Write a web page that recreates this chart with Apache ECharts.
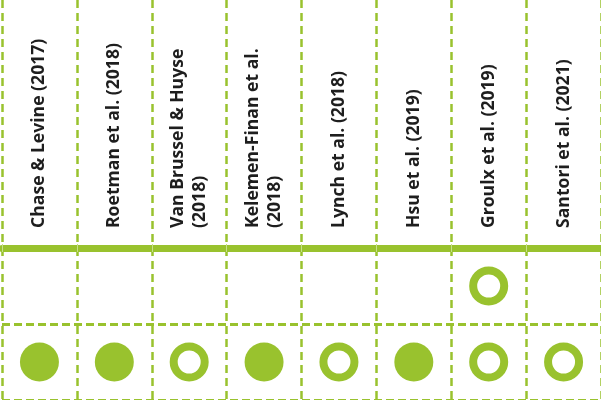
<!DOCTYPE html>
<html><head><meta charset="utf-8">
<script src="https://cdn.jsdelivr.net/npm/echarts@6/dist/echarts.min.js"></script>
<style>html,body{margin:0;padding:0;background:#fff}#c{width:601px;height:400px}</style>
</head><body><div id="c"></div>
<script>
// Data
const studies = ['Chase & Levine (2017)', 'Roetman et al. (2018)', 'Van Brussel & Huyse\n(2018)', 'Kelemen-Finan et al.\n(2018)', 'Lynch et al. (2018)', 'Hsu et al. (2019)', 'Groulx et al. (2019)', 'Santori et al. (2021)'];
const rows = ['row1', 'row2'];
const row1 = [null, null, null, null, null, null, 'partial', null];
const row2 = ['full', 'full', 'partial', 'full', 'partial', 'full', 'partial', 'partial'];

const GREEN = '#99C22E';
const LIGHT = '#C6DE8C';
const rowStatus = [row1, row2];
const filled = [], hollow = [];
rowStatus.forEach((r, ri) => r.forEach((s, si) => {
  if (s === 'full') filled.push([si, ri]);
  else if (s === 'partial') hollow.push([si, ri]);
}));

const chart = echarts.init(document.getElementById('c'), null, {renderer: 'canvas'});
const vSplit = {show: true, interval: 0, lineStyle: {color: GREEN, width: 2.5, type: [8, 5]}};
chart.setOption({
  animation: false,
  backgroundColor: '#fff',
  grid: [
    {left: 2, right: -6, top: 0, height: 248},
    {left: 2, right: -6, top: 248, height: 153.5}
  ],
  xAxis: [
    {type: 'category', gridIndex: 0, data: studies, position: 'bottom', axisLine: {show: false}, axisTick: {show: false}, axisLabel: {show: false}, splitLine: vSplit},
    {type: 'category', gridIndex: 0, data: studies, position: 'bottom', z: 10, axisLine: {show: false}, axisLabel: {show: false}, splitLine: {show: false},
      axisTick: {show: true, inside: true, length: 4, interval: 0, lineStyle: {color: LIGHT, width: 1}}},
    {type: 'category', gridIndex: 1, data: studies, position: 'top',
      axisLine: {show: true, lineStyle: {color: GREEN, width: 7}},
      axisTick: {show: false},
      axisLabel: {show: true, interval: 0, rotate: -90, margin: 20, fontFamily: 'Open Sans', fontWeight: 'bold', fontSize: 17.6, color: '#1e1e1e', lineHeight: 22},
      splitLine: vSplit},
    {type: 'category', gridIndex: 1, data: studies, position: 'top', z: 10, axisLine: {show: false}, axisLabel: {show: false}, splitLine: {show: false},
      axisTick: {show: true, inside: true, length: 4, interval: 0, lineStyle: {color: LIGHT, width: 1}}}
  ],
  yAxis: [
    {type: 'value', gridIndex: 0, show: false},
    {type: 'category', gridIndex: 1, data: rows, inverse: true,
      axisLine: {show: false}, axisTick: {show: false}, axisLabel: {show: false},
      splitLine: {show: true, interval: 0, lineStyle: {color: GREEN, width: 3, type: [8, 4]}}}
  ],
  series: [
    {type: 'scatter', xAxisIndex: 2, yAxisIndex: 1, data: filled, symbol: 'circle', symbolSize: 39, silent: true,
      itemStyle: {color: GREEN, opacity: 1}},
    {type: 'scatter', xAxisIndex: 2, yAxisIndex: 1, data: hollow, symbol: 'circle', symbolSize: 31, silent: true,
      itemStyle: {color: '#fff', borderColor: GREEN, borderWidth: 8, opacity: 1}}
  ]
});
</script>
</body></html>
